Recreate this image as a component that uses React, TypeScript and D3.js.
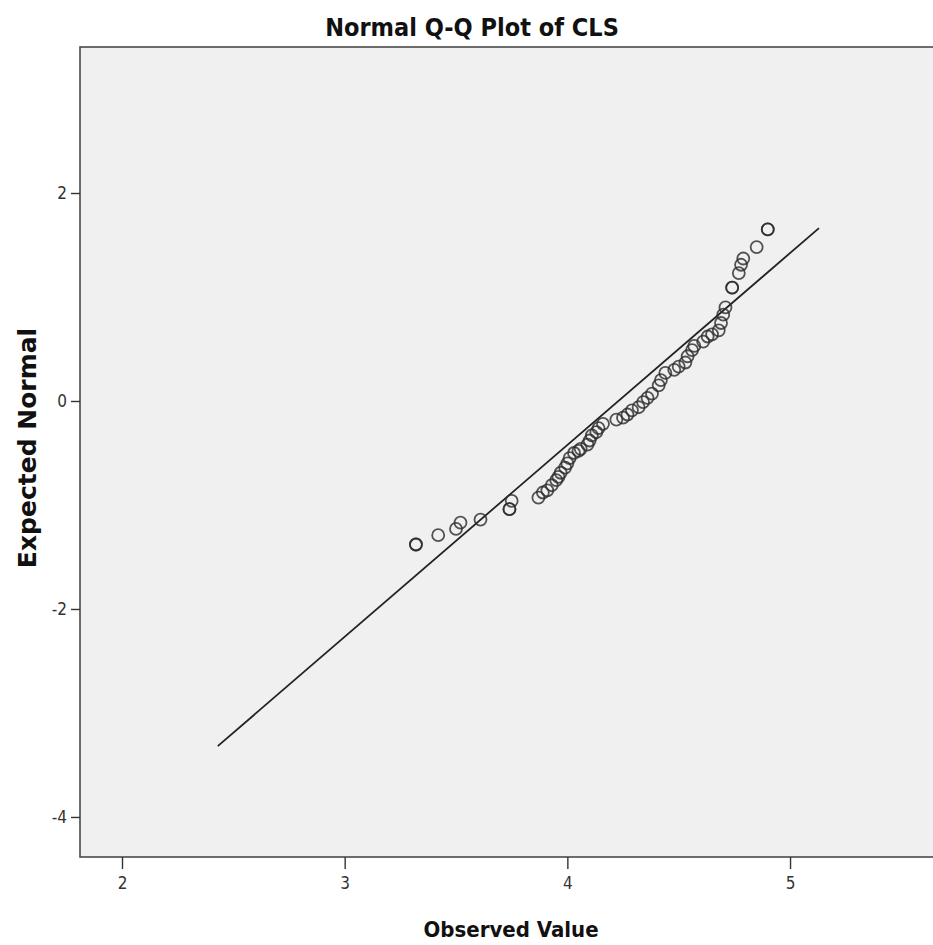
import React, { useEffect, useRef } from "react";
import * as d3 from "d3";

// Observed CLS scores and their expected normal values
const observed = [
  3.32, 3.32, 3.42, 3.50, 3.52, 3.61, 3.74, 3.74, 3.75, 3.87, 3.89, 3.91, 3.93, 3.95,
  3.96, 3.97, 3.99, 4.00, 4.01, 4.03, 4.05, 4.06, 4.09, 4.10, 4.11, 4.13, 4.14, 4.16,
  4.22, 4.25, 4.27, 4.29, 4.32, 4.34, 4.36, 4.38, 4.41, 4.42, 4.44, 4.48, 4.50, 4.53,
  4.54, 4.56, 4.57, 4.61, 4.63, 4.65, 4.68, 4.69, 4.70, 4.71, 4.74, 4.74, 4.77, 4.78,
  4.79, 4.85, 4.90, 4.90,
];
const expected = [
  -1.38, -1.38, -1.29, -1.23, -1.17, -1.14, -1.04, -1.04, -0.96, -0.93, -0.88, -0.86, -0.81, -0.76,
  -0.73, -0.69, -0.64, -0.60, -0.55, -0.50, -0.48, -0.46, -0.42, -0.38, -0.33, -0.30, -0.26, -0.22,
  -0.18, -0.16, -0.13, -0.09, -0.06, -0.01, 0.03, 0.07, 0.15, 0.20, 0.27, 0.30, 0.33, 0.37,
  0.43, 0.49, 0.53, 0.57, 0.62, 0.64, 0.68, 0.75, 0.83, 0.90, 1.09, 1.09, 1.23, 1.31,
  1.37, 1.48, 1.65, 1.65,
];

// reference line: expected = (observed - mean) / sd
const lineMean = 4.229;
const lineSd = 0.542;
const lineObserved = [2.43, 5.13];

const xTicks = [2, 3, 4, 5];
const yTicks = [2, 0, -2, -4];

export default function App() {
  const ref = useRef<SVGSVGElement>(null);

  useEffect(() => {
    const width = 933;
    const height = 945;
    const margin = { top: 47, left: 80, bottom: 88 };
    const plotBottom = height - margin.bottom; // 857

    const svg = d3.select(ref.current).attr("width", width).attr("height", height);
    svg.selectAll("*").remove();

    const xScale = d3.scaleLinear().domain([1.8114, 5.642]).range([margin.left, width]);
    const yScale = d3.scaleLinear().domain([-4.385, 3.404]).range([plotBottom, margin.top]);

    const condensed = "'DejaVu Sans Condensed', 'DejaVu Sans', sans-serif";

    // plot background
    svg.append("rect")
      .attr("x", margin.left).attr("y", margin.top)
      .attr("width", width - margin.left + 20).attr("height", plotBottom - margin.top)
      .attr("fill", "#f0f0f0").attr("stroke", "#4a4a4a").attr("stroke-width", 1.6);

    // axes
    const yAxis = d3.axisLeft(yScale).tickValues(yTicks).tickSize(9).tickPadding(4).tickFormat(d3.format("d"));
    const gy = svg.append("g").attr("transform", `translate(${margin.left},0)`).call(yAxis);
    gy.select(".domain").remove();
    gy.selectAll(".tick line").attr("stroke", "#333").attr("stroke-width", 1.4);
    gy.selectAll(".tick text").attr("font-family", condensed).attr("font-size", 17).attr("fill", "#333")
      .text((d: any) => (d < 0 ? "-" + Math.abs(d) : String(d)));

    const xAxis = d3.axisBottom(xScale).tickValues(xTicks).tickSize(12).tickPadding(8).tickFormat(d3.format("d"));
    const gx = svg.append("g").attr("transform", `translate(0,${plotBottom})`).call(xAxis);
    gx.select(".domain").remove();
    gx.selectAll(".tick line").attr("stroke", "#333").attr("stroke-width", 1.4);
    gx.selectAll(".tick text").attr("font-family", condensed).attr("font-size", 17).attr("fill", "#333");

    // reference line
    const line = d3.line<number>().x(d => xScale(d)).y(d => yScale((d - lineMean) / lineSd));
    svg.append("path").datum(lineObserved).attr("d", line)
      .attr("fill", "none").attr("stroke", "#222").attr("stroke-width", 1.8);

    // points
    const pts = observed.map((o, i) => ({ o, e: expected[i] }));
    svg.append("g").selectAll("circle").data(pts).join("circle")
      .attr("cx", d => xScale(d.o)).attr("cy", d => yScale(d.e)).attr("r", 6)
      .attr("fill", "none").attr("stroke", "#2a2a2a").attr("stroke-width", 1.8).attr("stroke-opacity", 0.8);

    // title and axis labels
    svg.append("text")
      .attr("x", 472).attr("y", 36).attr("text-anchor", "middle")
      .attr("font-family", condensed).attr("font-weight", "bold").attr("font-size", 25).attr("fill", "#111")
      .text("Normal Q-Q Plot of CLS");

    svg.append("text")
      .attr("x", 511).attr("y", 937).attr("text-anchor", "middle")
      .attr("font-family", condensed).attr("font-weight", "bold").attr("font-size", 22).attr("fill", "#111")
      .text("Observed Value");

    svg.append("text")
      .attr("transform", "rotate(-90)")
      .attr("x", -448).attr("y", 36).attr("text-anchor", "middle")
      .attr("font-family", "'DejaVu Sans', sans-serif").attr("font-weight", "bold").attr("font-size", 25).attr("fill", "#111")
      .text("Expected Normal");
  }, []);

  return (
    <svg ref={ref} style={{ position: "absolute", left: 0, top: 0, background: "#fff" }}></svg>
  );
}
